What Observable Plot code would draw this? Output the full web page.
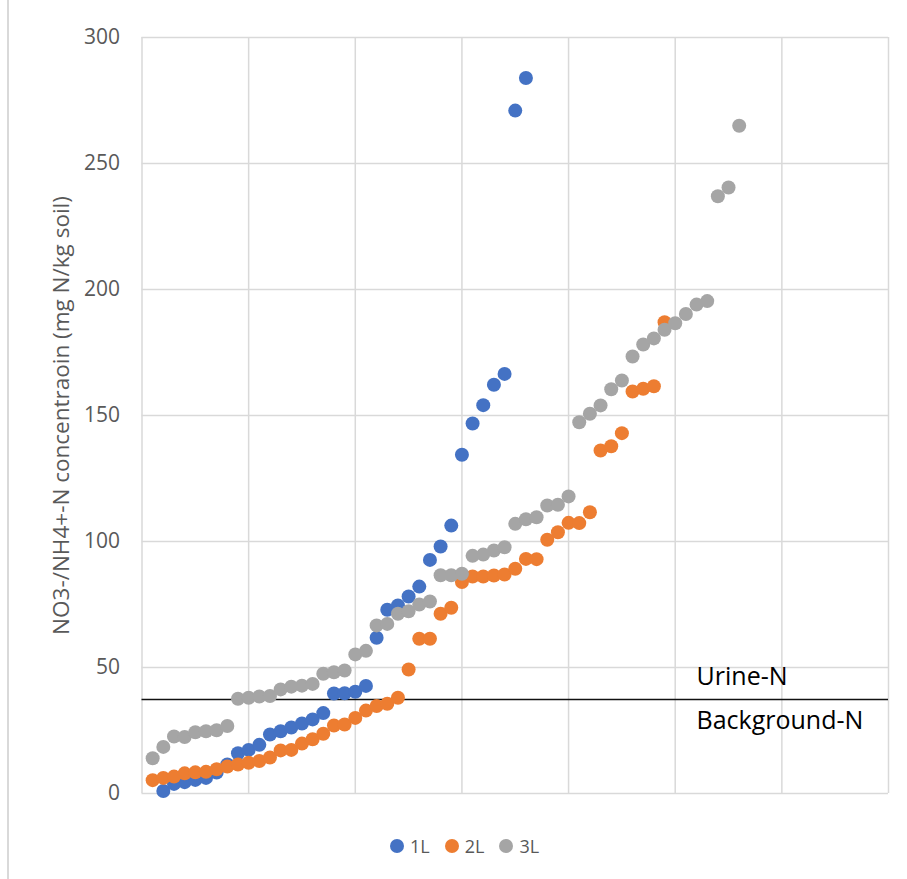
<!DOCTYPE html>
<html>
<head>
<meta charset="utf-8">
<script src="https://cdn.jsdelivr.net/npm/d3@7"></script>
<script src="https://cdn.jsdelivr.net/npm/@observablehq/plot@0.6"></script>
<style>
  html, body { margin: 0; padding: 0; background: #fff; }
  #wrap { position: relative; width: 907px; height: 879px; overflow: hidden; font-family: "Open Sans", sans-serif; }
  #frame { position: absolute; left: 7px; top: 0; width: 1.5px; height: 879px; background: #d9d9d9; }
  #legend { position: absolute; left: 390px; top: 834px; display: flex; align-items: center; font-size: 18px; color: #595959; }
  .item { display: flex; align-items: center; margin-right: 15px; }
  .sw { width: 14px; height: 14px; border-radius: 50%; margin-right: 6px; }
</style>
</head>
<body>
<div id="wrap"><div id="frame"></div><div id="chart"></div><div id="legend"></div></div>
<script>
// Sample index (x) and concentrations (mg N/kg soil)
const x1L = [2,3,4,5,6,7,8,9,10,11,12,13,14,15,16,17,18,19,20,21,22,23,24,25,26,27,28,29,30,31,32,33,34,35,36];
const y1L = [1.0,3.8,4.5,5.4,6.2,8.3,11.5,16.0,17.3,19.3,23.4,24.7,26.2,27.8,29.4,31.9,39.7,39.8,40.4,42.7,61.8,72.9,74.6,78.2,82.1,92.7,98.0,106.3,134.4,146.8,154.1,162.2,166.5,271.0,283.9];

const x2L = [1,2,3,4,5,6,7,8,9,10,11,12,13,14,15,16,17,18,19,20,21,22,23,24,25,26,27,28,29,30,31,32,33,34,35,36,37,38,39,40,41,42,43,44,45,46,47,48,49];
const y2L = [5.3,6.2,6.7,8.0,8.4,8.6,9.6,10.7,11.5,12.2,12.9,14.3,17.1,17.3,19.8,21.5,23.7,27.0,27.4,30.0,32.9,34.7,35.6,38.0,49.2,61.4,61.4,71.3,73.7,83.9,86.1,86.1,86.5,86.9,89.2,93.1,93.0,100.7,103.7,107.4,107.3,111.6,136.1,137.8,143.0,159.5,160.6,161.6,187.0];

const x3L = [1,2,3,4,5,6,7,8,9,10,11,12,13,14,15,16,17,18,19,20,21,22,23,24,25,26,27,28,29,30,31,32,33,34,35,36,37,38,39,40,41,42,43,44,45,46,47,48,49,50,51,52,53,54,55,56];
const y3L = [14.0,18.5,22.6,22.4,24.3,24.7,25.1,26.8,37.6,38.0,38.5,38.7,41.3,42.4,42.8,43.5,47.5,48.1,48.8,55.2,56.6,66.7,67.3,71.3,72.3,75.0,76.2,86.6,86.6,87.2,94.3,94.8,96.4,97.7,107.0,108.8,109.6,114.3,114.6,117.9,147.3,150.7,154.0,160.4,163.9,173.4,178.2,180.6,184.0,186.6,190.3,194.0,195.4,237.0,240.5,265.0];

const seriesNames = ["1L", "2L", "3L"];
const seriesColors = ["#4472C4", "#ED7D31", "#A5A5A5"];
const yTicks = [0, 50, 100, 150, 200, 250, 300];
const xGrid = [0, 10, 20, 30, 40, 50, 60, 70];
const threshold = 37.3;
const yLabel = "NO3-/NH4+-N concentraoin (mg N/kg soil)";
const annotations = [
  {label: "Urine-N", x: 52, y: threshold, side: -1},
  {label: "Background-N", x: 52, y: threshold, side: 1}
];

const series = [
  x1L.map((x, i) => ({x, y: y1L[i], s: "1L"})),
  x2L.map((x, i) => ({x, y: y2L[i], s: "2L"})),
  x3L.map((x, i) => ({x, y: y3L[i], s: "3L"}))
];

const chart = Plot.plot({
  width: 907,
  height: 815,
  marginLeft: 141.5,
  marginRight: 19,
  marginTop: 37,
  marginBottom: 22,
  style: {fontFamily: "Open Sans, sans-serif", background: "transparent", overflow: "visible"},
  x: {domain: [0, 70], axis: null},
  y: {domain: [0, 300], axis: null},
  marks: [
    Plot.gridX(xGrid, {stroke: "#d9d9d9", strokeOpacity: 1, strokeWidth: 1.5}),
    Plot.gridY(yTicks, {stroke: "#d9d9d9", strokeOpacity: 1, strokeWidth: 1.5}),
    Plot.axisY(yTicks, {tickSize: 0, tickPadding: 22, fontSize: 21, fill: "#595959", label: null, tickFormat: d => String(d)}),
    Plot.text([yLabel], {frameAnchor: "left", dx: -80, rotate: -90, textAnchor: "middle", lineAnchor: "middle", fontSize: 22.5, fill: "#595959", text: d => d}),
    Plot.ruleY([threshold], {stroke: "#111", strokeWidth: 1.3}),
    ...series.map((data, k) => Plot.dot(data, {x: "x", y: "y", r: 7, fill: seriesColors[k], stroke: "none"})),
    Plot.text(annotations, {x: "x", y: "y", text: "label", textAnchor: "start", fontSize: 25, fill: "#000", lineAnchor: "middle"})
  ]
});
document.getElementById("chart").appendChild(chart);

// Offset annotation labels above/below the threshold line
const texts = chart.querySelectorAll("g[aria-label='text']");
const annG = texts[texts.length - 1];
annG.querySelectorAll("text").forEach((t, i) => {
  const off = annotations[i].side < 0 ? -23 : 21;
  t.setAttribute("transform", (t.getAttribute("transform") || "") + ` translate(0,${off})`);
});

const legend = document.getElementById("legend");
seriesNames.forEach((n, i) => {
  const it = document.createElement("div");
  it.className = "item";
  it.innerHTML = `<span class="sw" style="background:${seriesColors[i]}"></span><span>${n}</span>`;
  legend.appendChild(it);
});
</script>
</body>
</html>
